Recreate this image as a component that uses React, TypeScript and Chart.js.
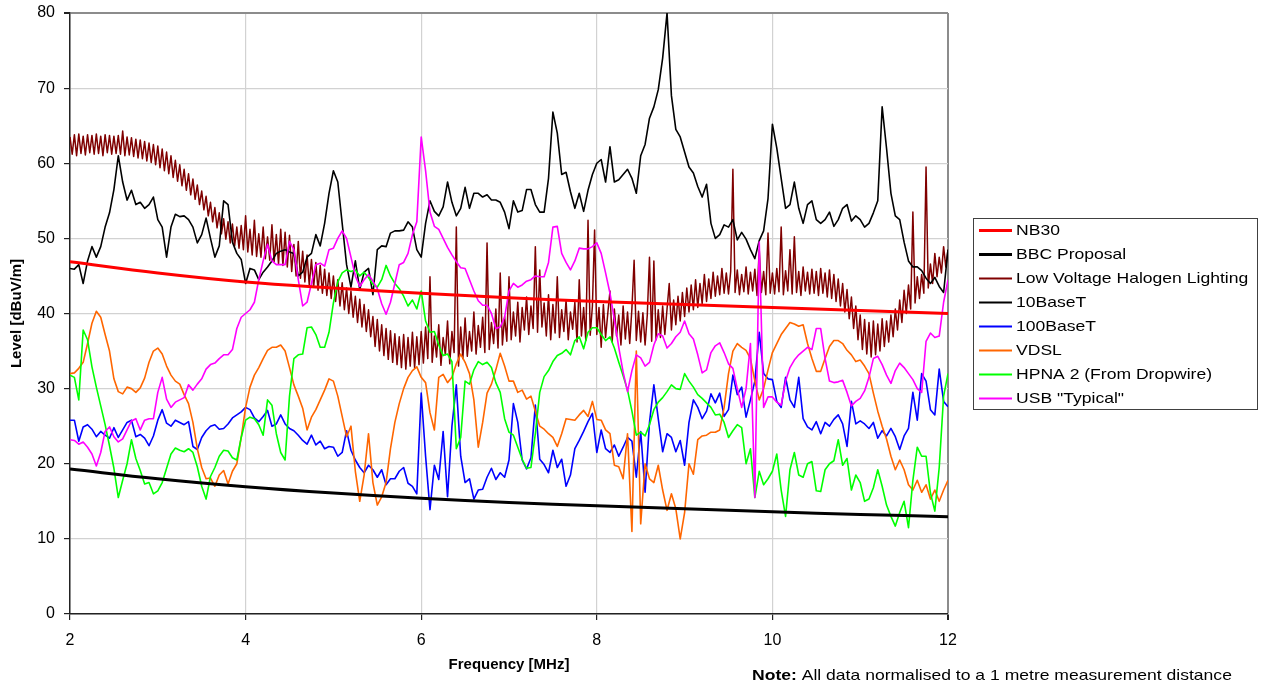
import React, { useEffect, useRef } from "react";
import { Chart, registerables } from "chart.js";

Chart.register(...registerables);

// ---- data ----
const GRID_START = 2; // MHz
const GRID_STEP = 0.05; // MHz, shared sampling of the measured traces
const HALOGEN_STEP = 0.025; // MHz, halogen trace sampling

const limitFreqs = [2, 3, 4, 5, 6, 7, 8, 9, 10, 11, 12];
const nb30 = [46.9, 45.4, 44.2, 43.4, 42.7, 42.1, 41.6, 41.2, 40.8, 40.4, 40.0];
const bbcProposal = [19.3, 18.0, 16.95, 16.1, 15.4, 14.85, 14.4, 14.0, 13.6, 13.25, 12.95];

const halogen = [
  63.5, 61.2, 63.8, 61.0, 63.9, 61.3, 63.6, 61.1, 63.8, 61.4, 63.7, 61.2, 63.9, 61.3, 63.6, 61.0, 63.8, 61.4, 63.7, 61.2,
  63.6, 61.3, 63.7, 61.2, 64.3, 61.0, 63.5, 61.1, 63.4, 60.9, 63.2, 60.7, 63.1, 60.6, 62.9, 60.3, 62.7, 60.1, 62.5, 59.8,
  62.3, 59.4, 61.9, 59.0, 61.5, 58.6, 61.0, 58.1, 60.4, 57.6, 59.8, 57.0, 59.2, 56.4, 58.6, 55.8, 57.9, 55.2, 57.1, 54.5,
  56.3, 53.8, 55.6, 53.0, 54.8, 52.2, 54.1, 51.4, 53.4, 50.6, 52.6, 49.9, 52.2, 49.4, 51.9, 49.0, 51.5, 48.7, 51.7, 48.5,
  53.0, 48.2, 51.2, 47.8, 52.4, 47.6, 50.6, 47.5, 51.5, 47.3, 50.2, 47.1, 51.8, 46.9, 50.5, 46.6, 51.2, 46.4, 50.8, 46.2,
  50.4, 45.6, 49.2, 45.0, 49.6, 44.7, 48.3, 44.2, 47.8, 43.8, 47.2, 43.5, 46.8, 43.1, 46.4, 42.7, 45.9, 42.4, 45.4, 42.0,
  45.0, 41.6, 44.5, 41.0, 44.1, 40.5, 43.4, 40.0, 43.0, 39.5, 42.3, 38.8, 41.9, 38.2, 41.2, 37.6, 40.5, 36.9, 39.6, 35.6,
  39.2, 35.0, 38.5, 34.4, 38.0, 33.9, 37.7, 33.5, 37.3, 33.2, 36.9, 32.8, 37.2, 32.6, 36.8, 33.0, 37.5, 32.8, 36.9, 33.2,
  37.6, 33.4, 38.2, 34.0, 44.9, 33.5, 37.0, 34.2, 38.5, 33.1, 36.8, 34.5, 39.0, 33.3, 37.6, 34.8, 51.5, 33.0, 38.2, 34.0,
  39.4, 34.3, 37.6, 35.0, 40.2, 34.6, 38.4, 35.5, 39.5, 34.8, 49.4, 35.2, 38.8, 36.0, 40.6, 35.4, 45.4, 35.8, 39.6, 36.3,
  44.9, 36.5, 40.2, 37.0, 41.5, 36.2, 40.8, 37.8, 42.2, 37.2, 41.0, 38.0, 48.9, 37.5, 45.8, 38.2, 41.4, 37.0, 42.5, 36.5,
  41.2, 37.4, 44.9, 36.8, 40.5, 37.6, 41.8, 36.5, 40.2, 37.9, 41.5, 36.2, 44.5, 37.0, 40.8, 36.4, 52.4, 37.1, 41.0, 51.1,
  37.2, 40.8, 35.5, 41.2, 36.8, 40.0, 43.0, 36.2, 40.6, 37.0, 39.8, 35.8, 41.0, 36.6, 40.2, 36.0, 40.7, 47.1, 36.4, 40.3,
  36.2, 40.1, 35.8, 39.8, 47.5, 36.3, 47.0, 36.5, 40.5, 36.8, 41.0, 37.2, 40.6, 44.0, 37.8, 41.8, 38.5, 42.3, 39.0, 42.8,
  39.6, 43.4, 40.2, 43.8, 40.5, 44.5, 40.8, 44.0, 41.3, 45.2, 41.6, 44.6, 42.0, 45.5, 42.3, 45.0, 42.5, 46.0, 42.7, 45.4,
  42.6, 45.6, 59.2, 42.8, 45.8, 42.5, 45.2, 42.9, 46.2, 42.6, 45.5, 43.0, 45.9, 42.4, 48.5, 42.8, 45.6, 42.5, 50.7, 42.7,
  45.4, 42.6, 46.0, 42.9, 51.5, 42.5, 45.7, 43.0, 48.5, 42.6, 50.2, 42.8, 45.6, 42.4, 46.2, 43.0, 45.5, 42.6, 45.9, 42.7,
  45.6, 42.4, 46.0, 42.7, 45.4, 42.2, 45.8, 42.0, 45.2, 41.6, 44.6, 41.0, 44.0, 40.2, 43.2, 39.3, 42.2, 38.0, 41.0, 36.5,
  39.8, 35.2, 39.2, 34.6, 38.8, 34.2, 39.0, 34.5, 38.6, 35.0, 39.3, 35.6, 39.0, 36.2, 39.8, 36.9, 40.6, 37.8, 41.8, 38.8,
  43.1, 40.0, 43.8, 40.6, 53.5, 41.4, 44.9, 42.0, 45.2, 42.7, 59.5, 43.4, 46.6, 44.0, 48.0, 44.9, 47.5, 45.4, 48.9, 46.2,
  48.5,
];

const tenBaseT = [
  46, 45.9, 46.5, 44, 47, 48.9, 47.5, 48.9, 51.5, 53.4,
  56.5, 61, 57.5, 55.1, 56.4, 54.5, 54.8, 54, 54.5, 55.5,
  52.5, 51.5, 47.5, 51.5, 53.2, 52.9, 53, 52.5, 51.5, 49.4,
  50.5, 52.7, 50, 47.5, 49, 55, 54.5, 49.5, 48, 47.2,
  44, 46, 45.8, 44.5, 45.5, 46.2, 47, 48, 48.3, 48.5,
  48.2, 48, 45, 45.5, 47.5, 48, 50.5, 49, 52, 56,
  59, 57.5, 52, 46.5, 43.5, 47, 43.2, 45.5, 46, 42.5,
  48.5, 49, 48.9, 50.7, 51, 51, 51.1, 52.2, 51.5, 48.5,
  47.5, 52, 55, 53.6, 53, 54.2, 57.5, 54.8, 53, 54,
  56.8, 54, 56, 56, 55.5, 55.8, 55.1, 55.1, 54.8, 53.5,
  51.3, 55, 53.5, 53.7, 56.5, 56.5, 54.5, 53.5, 53.5, 58,
  66.8, 64, 58.5, 58.8, 56.2, 54, 56, 53.6, 56.4, 58.5,
  60, 60.5, 57.5, 62.2, 57.5, 57.8, 58.5, 59.2, 58, 56,
  61, 62.5, 66, 67.5, 69.8, 74, 80, 69, 64.5, 63.5,
  61.5, 59.5, 58.7, 56.9, 55.5, 57.2, 52, 50, 50.5, 51.8,
  51.5, 52.5, 49.8, 50.8, 49.9, 48.5, 47.3, 49.7, 51, 55.3,
  65.2, 62, 58, 54, 54.5, 57.5, 54, 52, 54.5, 55,
  52.5, 52, 52.5, 53.5, 51.6, 52.5, 54, 54.5, 52.3, 53,
  52.5, 51.5, 52, 53.4, 55, 67.5, 62, 56, 53, 52.5,
  49.5, 47, 46.2, 46.2, 45.7, 44.7, 44, 44.8, 43.6, 42.8,
  48.5,
];

const hundredBaseT = [
  25.8, 25.8, 23, 24.9, 25.2, 24.6, 23.6, 24.3, 23.8, 23.4,
  24.8, 23.5, 24.5, 25.5, 25.8, 23.6, 23.9, 23.4, 22.4, 23.7,
  25.8, 27.2, 25.4, 25, 25.8, 25.5, 25.2, 25.6, 22.3, 21.9,
  23.5, 24.4, 25, 25.2, 24.6, 24.7, 25.3, 26.1, 26.5, 26.9,
  27.5, 27.2, 26.1, 25.6, 26.3, 27.1, 25, 25.3, 26.5, 25.3,
  24.7, 24.4, 23.8, 23.1, 22.6, 23.8, 22.5, 23, 22, 22.3,
  22.2, 21, 21.5, 24.4, 21.8, 20.5, 19.5, 18.8, 19.8, 19.2,
  18.2, 19.2, 17.2, 18, 18, 19, 19.5, 17.4, 17, 16,
  29.4, 21, 13.9, 19.8, 17.9, 24.3, 15.6, 25, 30.5, 21,
  17.5, 18, 15.3, 16.5, 16.6, 18.2, 19.4, 17.9, 18.8, 18.2,
  20.5, 28, 25.5, 20.5, 19.3, 20.8, 27.8, 20.6, 19.9, 18.8,
  21.8, 19.5, 20.6, 17, 18.5, 22, 23.1, 24.3, 25.6, 26.7,
  21.5, 24.5, 22, 21.5, 22.5, 21, 22.2, 23.5, 23, 18.2,
  24.3, 16.2, 25.5, 30.5, 26, 21.6, 24, 23.5, 21.6, 23.1,
  19.8, 25.5, 28.5, 27.5, 26, 27, 29.3, 28.1, 29.4, 26.3,
  27.2, 31.8, 29.2, 30.2, 26.2, 28.5, 31, 37.5, 32, 31.3,
  31.2, 28.3, 27.5, 31.5, 28.5, 27.5, 31.5, 26, 24.9, 24.5,
  25.6, 24, 25.5, 25, 25.9, 26.5, 25.3, 22.3, 28.3, 25.3,
  25.7, 25.3, 24.7, 25.5, 23.4, 24.4, 23.7, 24.7, 23.6, 21.9,
  23.7, 24.7, 29.5, 25.8, 32, 31, 27.2, 26.5, 32.6, 28.3,
  27.6,
];

const vdsl = [
  32, 32.1, 32.7, 33.5, 36, 38.7, 40.3, 39.5, 37.2, 35,
  31.3, 29.6, 29.3, 30.2, 30, 29.5, 30.1, 31.4, 33.5, 35,
  35.4, 34.6, 33, 31.8, 31, 30.6, 29.2, 28, 25.5, 22,
  19.5, 18, 18.1, 17, 18.5, 19.1, 17.3, 19, 20, 23.5,
  27.5, 30.2, 31.8, 32.8, 34, 35.1, 35.5, 35.5, 35.8, 35,
  32.8, 30.5, 29, 27.4, 24.5, 26.2, 27.2, 28.5, 29.8, 31.3,
  31, 29, 26.3, 23.6, 25, 19, 15, 18.5, 24, 17.5,
  14.5, 15.6, 17.5, 22, 25.5, 28, 30, 31.5, 32.4, 32.9,
  31.5, 30.8, 26.8, 24.5, 31.5, 31.9, 30.8, 31.5, 33.3, 34.6,
  33.5, 32, 28.5, 22.2, 25.5, 29.4, 30.6, 32.5, 34.7, 33,
  31, 31, 29.5, 29.8, 28.6, 29, 27, 25, 24.6, 24,
  23.5, 22.3, 24, 26, 25.9, 25.8, 26.5, 27.1, 26.3, 28.3,
  25.9, 25.8, 24.5, 24, 19.8, 19.6, 18, 24, 11, 35,
  12, 20, 18, 17.5, 19.8, 16.5, 13.8, 16, 14, 10,
  13.5, 20, 18.6, 23.2, 23.7, 23.8, 24.2, 24.2, 24.5, 27.5,
  32, 35, 36, 35.5, 35.1, 34, 31, 28.5, 30, 32.5,
  34.8, 36, 37.2, 38, 38.8, 38.6, 38.3, 38.5, 36, 34,
  32.3, 32.3, 34, 35.6, 36.4, 36.4, 36, 35.1, 34.5, 33.6,
  33.8, 33, 32, 29.4, 27, 25, 23.3, 21, 19.2, 20.5,
  19.2, 17.2, 16.5, 17.8, 16.2, 17.2, 15.3, 16.5, 15, 16.5,
  17.8,
];

const hpna2 = [
  31.8, 31.5, 28.5, 37.8, 36.5, 32.9, 30.2, 27.7, 25.2, 22.4,
  19.4, 15.5, 17.8, 20, 23.2, 20.7, 19.1, 17.3, 17.5, 16,
  16.4, 17.5, 19.4, 21.3, 22.1, 21.8, 21.6, 22, 21.5, 19.6,
  17, 15.3, 18.3, 19.5, 21, 21.8, 21.7, 20.8, 20.5, 23.5,
  25.8, 26.2, 26, 25.2, 23.8, 28.5, 27.8, 24, 21.5, 20.5,
  29, 34, 34.5, 34.6, 38.1, 38.2, 37.2, 35.5, 35.5, 37.5,
  41.4, 44.2, 45.4, 45.8, 45.6, 45.8, 45, 45.5, 44.8, 43.9,
  43.5, 44.5, 46.4, 45, 44, 43.3, 42.3, 41, 41.8, 40.6,
  43, 39, 37.5, 37.6, 35.8, 34.4, 34.6, 33.6, 22, 23.5,
  31, 30.6, 32.5, 33.6, 33.2, 33.5, 32.8, 30.8, 29.5, 26,
  24.2, 23.8, 22.2, 20.6, 19.4, 19.5, 24, 29.5, 31.6, 32.4,
  33.6, 34.4, 34.7, 35.2, 34.5, 36.4, 36.9, 35.3, 37.5, 38.1,
  38.1, 37.2, 36.4, 36.9, 35.4, 33.5, 31.7, 29.8, 27, 23.8,
  24.2, 23.7, 25.2, 27.2, 28.2, 28.8, 29.6, 30.5, 30, 29.9,
  32, 31, 30.2, 29.2, 28.7, 28.1, 27.5, 26.5, 26.6, 25.5,
  23.5, 24.4, 25.2, 24.8, 20, 22, 15.5, 19, 17.2, 18,
  19, 21.3, 16.5, 13, 19.2, 21.5, 18.5, 18.2, 20, 20.3,
  16.4, 16.3, 19.2, 20, 20.4, 23.2, 19.8, 20.7, 16.5, 18.5,
  17.5, 15, 15.3, 16.8, 19.2, 17, 14.5, 13, 11.7, 13.5,
  15, 11.5, 17.8, 22.2, 21, 21, 16.1, 13.7, 19.5, 29,
  32,
];

const usbTypical = [
  23.2, 23.1, 22.6, 22.9, 22.2, 21.3, 19.7, 21.5, 24.3, 24.9,
  23.6, 22.9, 23.3, 24.5, 25.7, 26, 24.5, 25.8, 26, 26,
  29.5, 31.5, 28.6, 27.5, 28.2, 28.5, 28.8, 30.5, 29.8, 30.6,
  31.3, 32.6, 33.2, 33.4, 34, 34.5, 34.5, 35.2, 38, 39.5,
  40, 40.5, 41.5, 44.5, 47, 49.2, 47, 46.5, 46.5, 46.5,
  49.6, 48.5, 44.5, 41, 41.5, 44, 46.5, 46.7, 46.3, 48.5,
  48.7, 50, 51, 50, 47.5, 45, 43.6, 44.5, 45.2, 44.3,
  43.3, 41.3, 39.9, 41.5, 44, 46.5, 46.8, 48, 50.5, 52.2,
  63.5, 59, 53.5, 51.6, 51.2, 50, 48.8, 47.8, 46.9, 46.1,
  46, 44.5, 43, 41.7, 41.1, 41.1, 40, 38, 38.2, 39.5,
  43, 44, 43.5, 43.8, 44.3, 44.5, 45, 44.9, 44.9, 46.8,
  51.5, 51.6, 48, 46.8, 45.8, 47, 48.7, 48.6, 48.6, 48.9,
  49.4, 48, 45.4, 42.7, 39.2, 35.5, 32.2, 29.6, 32.4, 34.5,
  34.1, 33, 33.5, 35.8, 37.3, 37, 35.4, 36, 36.9, 37.5,
  39, 37.3, 36.6, 34.5, 32.1, 32.5, 34.8, 35.7, 36.1, 34.8,
  33.3, 32.7, 30, 27.5, 30, 36, 15.5, 49.5, 27.5, 28.9,
  28.9, 28.2, 27.8, 31, 32.8, 33.8, 34.5, 35, 35.5, 35.2,
  38, 38, 34, 31, 30.8, 30.9, 31.1, 29.5, 27.7, 28.3,
  28.7, 29.7, 31.5, 34, 34.3, 33.2, 31.8, 30.7, 32.4, 33.4,
  32.8, 32, 31.2, 30, 29.5, 36.3, 37.4, 36.8, 37, 41.5,
  44.5,
];

const xTickLabels = ["2", "4", "6", "8", "10", "12"];
const FONT = '"Liberation Sans", Arial, Helvetica, sans-serif';
const TEXT_STRETCH = 1.17;

function sampled(values: number[], start: number, step: number) {
  return values.map((v, i) => ({ x: Math.round((start + i * step) * 1000) / 1000, y: v }));
}
function paired(xs: number[], ys: number[]) {
  return xs.map((x, i) => ({ x, y: ys[i] }));
}

function stretchedText(ctx: CanvasRenderingContext2D, text: string, x: number, y: number) {
  ctx.save();
  ctx.translate(x, y);
  ctx.scale(TEXT_STRETCH, 1);
  ctx.fillText(text, 0, 0);
  const w = ctx.measureText(text).width * TEXT_STRETCH;
  ctx.restore();
  return w;
}

const overlayPlugin = {
  id: "overlay",
  afterDraw(chart: any) {
    const ctx: CanvasRenderingContext2D = chart.ctx;
    ctx.save();
    // legend box
    const bx = 973.5, by = 218.5, bw = 284, bh = 191;
    ctx.fillStyle = "#ffffff";
    ctx.fillRect(bx, by, bw, bh);
    ctx.strokeStyle = "#404040";
    ctx.lineWidth = 1;
    ctx.strokeRect(bx, by, bw, bh);
    ctx.textBaseline = "middle";
    ctx.textAlign = "left";
    ctx.font = `15px ${FONT}`;
    chart.data.datasets.forEach((ds: any, i: number) => {
      const y = 229.5 + i * 24.1;
      ctx.strokeStyle = ds.borderColor;
      ctx.lineWidth = ds.borderWidth >= 3 ? 3 : 2;
      ctx.beginPath();
      ctx.moveTo(979, Math.round(y) + 0.5);
      ctx.lineTo(1012, Math.round(y) + 0.5);
      ctx.stroke();
      ctx.fillStyle = "#000";
      stretchedText(ctx, ds.label, 1016, y + 1);
    });
    // note
    ctx.fillStyle = "#000";
    ctx.font = `bold 15px ${FONT}`;
    const w = stretchedText(ctx, "Note:", 752, 676);
    ctx.font = `15px ${FONT}`;
    stretchedText(ctx, " All data normalised to a 1 metre measurement distance", 752 + w, 676);
    ctx.restore();
  },
};

export default function App() {
  const canvasRef = useRef<HTMLCanvasElement | null>(null);

  useEffect(() => {
    const canvas = canvasRef.current;
    if (!canvas) return;
    const thin = 1.6;
    const chart = new Chart(canvas, {
      type: "line",
      data: {
        datasets: [
          { label: "NB30", data: paired(limitFreqs, nb30), borderColor: "#ff0000", borderWidth: 3, tension: 0.4, order: 0 },
          { label: "BBC Proposal", data: paired(limitFreqs, bbcProposal), borderColor: "#000000", borderWidth: 3, tension: 0.4, order: 1 },
          { label: "Low Voltage Halogen Lighting", data: sampled(halogen, GRID_START, HALOGEN_STEP), borderColor: "#800000", borderWidth: 1.5, order: 8 },
          { label: "10BaseT", data: sampled(tenBaseT, GRID_START, GRID_STEP), borderColor: "#000000", borderWidth: thin, order: 7 },
          { label: "100BaseT", data: sampled(hundredBaseT, GRID_START, GRID_STEP), borderColor: "#0000ff", borderWidth: thin, order: 6 },
          { label: "VDSL", data: sampled(vdsl, GRID_START, GRID_STEP), borderColor: "#ff6600", borderWidth: thin, order: 5 },
          { label: "HPNA 2 (From Dropwire)", data: sampled(hpna2, GRID_START, GRID_STEP), borderColor: "#00ff00", borderWidth: thin, order: 4 },
          { label: 'USB "Typical"', data: sampled(usbTypical, GRID_START, GRID_STEP), borderColor: "#ff00ff", borderWidth: thin, order: 3 },
        ] as any,
      },
      options: {
        animation: false,
        responsive: false,
        devicePixelRatio: 1,
        parsing: false as any,
        normalized: true,
        layout: { padding: { left: 0, right: 314, top: 13, bottom: 0 } },
        elements: { point: { radius: 0 }, line: { fill: false, borderJoinStyle: "round" } },
        plugins: { legend: { display: false }, tooltip: { enabled: false }, title: { display: false } },
        scales: {
          x: {
            type: "linear",
            min: 2,
            max: 12,
            afterFit: (scale: any) => {
              scale.height = 71;
              scale.paddingLeft = 0;
              scale.paddingRight = 0;
              scale.paddingTop = 0;
              scale.paddingBottom = 0;
            },
            afterBuildTicks: (scale: any) => {
              scale.ticks = xTickLabels.map((t) => ({ value: Number(t) }));
            },
            ticks: {
              stepSize: 2,
              color: "#000",
              font: { family: FONT, size: 16 },
              padding: 11,
              maxRotation: 0,
              callback: (v: any) => String(v),
            },
            grid: {
              color: (c: any) => (c.tick && c.tick.value === 12 ? "#8c8c8c" : "#d2d2d2"),
              lineWidth: (c: any) => (c.tick && c.tick.value === 12 ? 2 : 1.2),
              tickLength: 6,
              tickColor: "#222",
              drawTicks: true,
            },
            border: { display: true, color: "#222", width: 1.5 },
            title: {
              display: true,
              text: "Frequency [MHz]",
              color: "#000",
              font: { family: FONT, size: 15, weight: "bold" },
              padding: { top: 0, bottom: 11 },
            },
          },
          y: {
            type: "linear",
            min: 0,
            max: 80,
            afterFit: (scale: any) => {
              scale.width = 70;
              scale.paddingTop = 0;
              scale.paddingBottom = 0;
              scale.paddingLeft = 0;
              scale.paddingRight = 0;
            },
            ticks: {
              stepSize: 10,
              color: "#000",
              font: { family: FONT, size: 16 },
              padding: 9,
            },
            grid: {
              color: (c: any) => (c.tick && c.tick.value === 80 ? "#8c8c8c" : "#d2d2d2"),
              lineWidth: (c: any) => (c.tick && c.tick.value === 80 ? 2 : 1.2),
              tickLength: 6,
              tickColor: "#222",
            },
            border: { display: true, color: "#222", width: 1.5 },
            title: {
              display: true,
              text: "Level [dBuV/m]",
              color: "#000",
              font: { family: FONT, size: 15, weight: "bold" },
              padding: { top: 8, bottom: 0 },
            },
          },
        },
      } as any,
      plugins: [overlayPlugin as any],
    });
    return () => chart.destroy();
  }, []);

  return (
    <div style={{ position: "fixed", left: 0, top: 0, width: 1262, height: 685, background: "#fff" }}>
      <canvas ref={canvasRef} width={1262} height={685} style={{ display: "block", width: 1262, height: 685 }} />
    </div>
  );
}
